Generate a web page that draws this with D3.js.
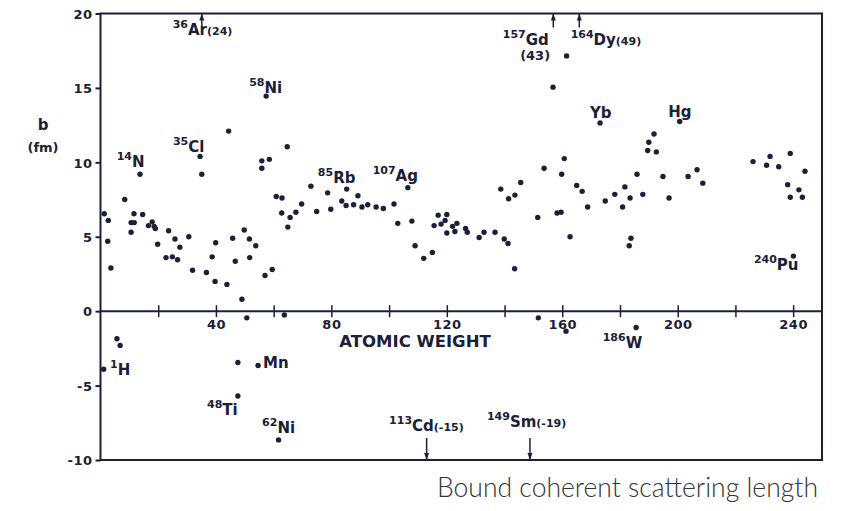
<!DOCTYPE html>
<html>
<head>
<meta charset="utf-8">
<script src="https://cdn.jsdelivr.net/npm/d3@7"></script>
<style>
body { margin: 0; background: #fff; }
svg text { font-family: "DejaVu Sans", sans-serif; font-weight: bold; fill: #1b2038; }
</style>
</head>
<body>
<svg id="chart" width="843" height="511"></svg>
<script>
// atomic weight and bound coherent scattering length b (fm)
var weight = [1.3, 2.7, 2.5, 8.4, 13.7, 11.6, 14.6, 10.6, 11.7, 10.6,
    16.6, 17.9, 18.6, 19.0, 19.8, 23.6, 25.8, 27.5, 30.6, 34.5,
    35.1, 39.9, 44.4, 45.8, 49.8, 51.6, 53.8, 57.4, 55.9, 55.9,
    58.5, 64.7, 60.9, 62.9, 62.8, 64.9, 65.7, 67.7, 69.7, 3.6,
    22.7, 24.9, 26.7, 31.9, 36.7, 38.7, 39.7, 43.8, 46.7, 49.0,
    51.7, 57.0, 59.5, 50.7, 63.7, 5.7, 6.8, 1.1, 47.6, 54.6,
    47.6, 61.7, 72.9, 74.9, 78.7, 79.8, 83.6, 85.3, 85.1, 87.7,
    89.2, 90.6, 92.6, 95.5, 98.0, 101.7, 106.5, 103.0, 107.9, 109.0,
    112.0, 115.0, 115.6, 117.0, 118.0, 120.0, 119.4, 120.0, 122.0, 123.5,
    122.8, 126.5, 127.1, 131.2, 132.9, 136.7, 139.9, 141.2, 138.7, 141.4,
    143.6, 145.6, 151.5, 153.7, 156.8, 161.5, 158.2, 159.6, 159.8, 160.7,
    162.7, 165.0, 166.9, 168.8, 173.1, 174.9, 178.2, 180.9, 181.7, 183.5,
    185.9, 187.9, 183.8, 183.2, 190.0, 191.8, 189.6, 192.6, 194.9, 197.0,
    200.7, 203.6, 206.7, 208.7, 226.1, 230.8, 232.0, 235.0, 239.0, 238.1,
    239.0, 242.0, 243.2, 244.1, 240.1, 143.5, 151.7, 161.3, 185.6];
var blength = [6.55, 6.1, 4.7, 7.5, 9.2, 6.55, 6.5, 5.95, 5.95, 5.3,
    5.75, 6.0, 5.7, 5.55, 4.5, 5.4, 4.85, 4.3, 5.0, 10.4,
    9.2, 4.6, 12.1, 4.9, 5.45, 4.85, 4.4, 14.45, 10.1, 9.6,
    10.2, 11.05, 7.7, 7.6, 6.6, 5.65, 6.3, 6.65, 7.2, 2.9,
    3.6, 3.65, 3.45, 2.75, 2.6, 3.65, 2.0, 1.8, 3.35, 0.8,
    3.6, 2.4, 2.8, -0.45, -0.25, -1.85, -2.3, -3.9, -3.45, -3.65,
    -5.7, -8.65, 8.4, 6.7, 7.95, 6.85, 7.4, 8.2, 7.1, 7.15,
    7.75, 7.0, 7.15, 7.0, 6.9, 7.2, 8.3, 5.9, 6.05, 4.4,
    3.55, 3.95, 5.75, 6.45, 5.85, 6.5, 6.1, 5.25, 5.7, 5.9,
    5.35, 5.55, 5.3, 4.95, 5.3, 5.3, 4.85, 4.55, 8.2, 7.55,
    7.8, 8.65, 6.3, 9.6, 15.05, 17.15, 6.6, 6.65, 9.2, 10.25,
    5.0, 8.45, 8.05, 7.0, 12.65, 7.4, 7.85, 7.0, 8.35, 7.6,
    9.2, 7.85, 4.9, 4.4, 11.35, 11.9, 10.8, 10.7, 9.05, 7.6,
    12.75, 9.05, 9.5, 8.6, 10.05, 9.8, 10.4, 9.7, 10.6, 8.5,
    7.65, 8.15, 7.65, 9.4, 3.7, 2.85, -0.45, -1.35, -1.1];

// nuclide labels: mass number, symbol, note, anchor (weight, b)
var labelMass = ['14', '35', '58', '85', '107', '157', '164', '', '', '240', '186', '1', '', '48', '62', '113', '149', '36'];
var labelSym  = ['N', 'Cl', 'Ni', 'Rb', 'Ag', 'Gd', 'Dy', 'Yb', 'Hg', 'Pu', 'W', 'H', 'Mn', 'Ti', 'Ni', 'Cd', 'Sm', 'Ar'];
var labelNote = ['', '', '', '', '', '', '(49)', '', '', '', '', '', '', '', '', '(-15)', '(-19)', '(24)'];
var labelW    = [5.6, 25.1, 51.5, 75.3, 94.3, 139.4, 162.9, 169.6, 196.7, 226.4, 174.0, 3.3, 56.3, 36.9, 56.0, 100.0, 133.9, 25.0];
var labelB    = [9.7, 10.7, 14.65, 8.6, 8.75, 17.9, 17.9, 12.95, 13.05, 2.75, -2.5, -4.3, -3.8, -7.0, -8.2, -8.05, -7.8, 18.55];

// values off the scale, shown as arrows
var offW = [35.1, 156.9, 165.9, 113.0, 148.8];
var offB = [24, 43, 49, -15, -19];

var xTicks = [20, 40, 60, 80, 100, 120, 140, 160, 180, 200, 220, 240];
var yTicks = [-10, -5, 0, 5, 10, 15, 20];

var ink = '#1b2038';
var svg = d3.select('#chart');
var x = d3.scaleLinear().domain([0, 250]).range([100.5, 822]);
var y = d3.scaleLinear().domain([-10, 20]).range([460, 13.5]);

svg.append('rect')
    .attr('x', x(0)).attr('y', y(20))
    .attr('width', x(250) - x(0)).attr('height', y(-10) - y(20))
    .attr('fill', 'none').attr('stroke', ink).attr('stroke-width', 2);

// y axis on the left frame edge
var yAxis = svg.append('g').attr('transform', 'translate(' + x(0) + ',0)')
    .call(d3.axisLeft(y).tickValues(yTicks).tickSize(5).tickPadding(3)
        .tickFormat(function(d) { return String(d); }));
yAxis.select('.domain').remove();
yAxis.selectAll('line').attr('stroke', ink).attr('stroke-width', 2);
yAxis.selectAll('text').style('font-size', '13px').attr('dy', '0.36em').style('letter-spacing', '0.5px');

// zero line carries the atomic weight ticks
var xAxis = svg.append('g').attr('transform', 'translate(0,' + y(0) + ')')
    .call(d3.axisBottom(x).tickValues(xTicks).tickSize(6).tickPadding(3)
        .tickFormat(function(d) { return d % 40 === 0 ? d : ''; }));
xAxis.select('.domain').remove();
xAxis.append('line').attr('x1', x(0)).attr('x2', x(250)).attr('stroke', ink).attr('stroke-width', 2);
xAxis.selectAll('.tick line').attr('y1', -6).attr('stroke', ink).attr('stroke-width', 1.5);
xAxis.selectAll('text').style('font-size', '13px').style('letter-spacing', '0.5px');

svg.append('text').attr('x', 415).attr('y', y(0) + 36).attr('text-anchor', 'middle')
    .style('font-size', '16.5px').text('ATOMIC WEIGHT');
svg.append('text').attr('x', 43).attr('y', 130).attr('text-anchor', 'middle')
    .style('font-size', '15px').text('b');
svg.append('text').attr('x', 43).attr('y', 152).attr('text-anchor', 'middle')
    .style('font-size', '13px').text('(fm)');

svg.append('g').selectAll('circle').data(weight).enter().append('circle')
    .attr('cx', function(d) { return x(d); })
    .attr('cy', function(d, i) { return y(blength[i]); })
    .attr('r', 2.7)
    .attr('fill', ink);

// arrows for the off-scale values
var arrows = svg.append('g');
offW.forEach(function(w, i) {
    var up = offB[i] > 0;
    var edge = up ? y(20) : y(-10);
    var dir = up ? 1 : -1;
    var len = up ? 14 : 22;
    arrows.append('line').attr('x1', x(w)).attr('x2', x(w))
        .attr('y1', edge).attr('y2', edge + dir * len)
        .attr('stroke', ink).attr('stroke-width', 1.5);
    arrows.append('path')
        .attr('d', 'M' + x(w) + ',' + edge + 'L' + (x(w) - 2.5) + ',' + (edge + dir * 7) + 'L' + (x(w) + 2.5) + ',' + (edge + dir * 7) + 'Z')
        .attr('fill', ink);
});

var labels = svg.append('g');
labelSym.forEach(function(s, i) {
    var t = labels.append('text').attr('x', x(labelW[i])).attr('y', y(labelB[i]));
    if (labelMass[i]) {
        t.append('tspan').style('font-size', '11px').attr('dy', -7).text(labelMass[i]);
        t.append('tspan').style('font-size', '15px').attr('dy', 7).text(s);
    } else {
        t.append('tspan').style('font-size', '15px').text(s);
    }
    if (labelNote[i]) {
        t.append('tspan').style('font-size', '11px').text(labelNote[i]);
    }
});
labels.append('text').attr('x', x(150.6)).attr('y', y(16.9)).attr('text-anchor', 'middle')
    .style('font-size', '13px').text('(43)');

svg.append('text').attr('x', 437).attr('y', 497)
    .attr('textLength', 381).attr('lengthAdjust', 'spacingAndGlyphs')
    .style('font-family', 'Lato, "Noto Sans", sans-serif').style('font-weight', 300)
    .style('font-size', '27px').style('fill', '#333')
    .text('Bound coherent scattering length');
</script>
</body>
</html>
